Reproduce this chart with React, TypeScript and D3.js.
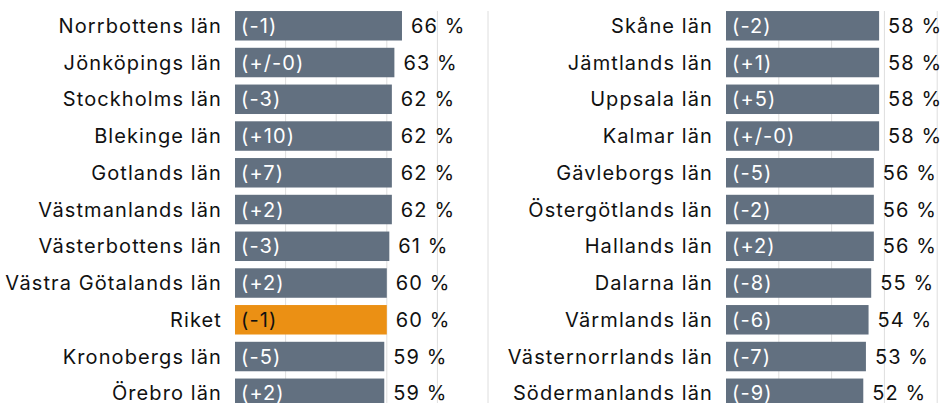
import * as d3 from "d3";
import { useEffect, useRef } from "react";

// left column
const leftNames = [
  "Norrbottens län", "Jönköpings län", "Stockholms län", "Blekinge län", "Gotlands län",
  "Västmanlands län", "Västerbottens län", "Västra Götalands län", "Riket", "Kronobergs län", "Örebro län",
];
const leftValues = [66, 63, 62, 62, 62, 62, 61, 60, 60, 59, 59];
const leftChange = ["(-1)", "(+/-0)", "(-3)", "(+10)", "(+7)", "(+2)", "(-3)", "(+2)", "(-1)", "(-5)", "(+2)"];

// right column
const rightNames = [
  "Skåne län", "Jämtlands län", "Uppsala län", "Kalmar län", "Gävleborgs län",
  "Östergötlands län", "Hallands län", "Dalarna län", "Värmlands län", "Västernorrlands län", "Södermanlands län",
];
const rightValues = [58, 58, 58, 58, 56, 56, 56, 55, 54, 53, 52];
const rightChange = ["(-2)", "(+1)", "(+5)", "(+/-0)", "(-5)", "(-2)", "(+2)", "(-8)", "(-6)", "(-7)", "(-9)"];

const gridTicks = [20, 40, 60, 80, 100];

const W = 942, H = 403;
const BAR = "#627080", HIGHLIGHT = "#eb9014";
const FONT = "Inter, 'Noto Sans', sans-serif";

const App = () => {
  const ref = useRef<SVGSVGElement>(null);

  useEffect(() => {
    const svg = d3.select(ref.current);
    svg.selectAll("*").remove();

    const panel = (names: string[], values: number[], change: string[], x0: number, x100: number) => {
      const x = d3.scaleLinear().domain([0, 100]).range([x0, x100]);
      const y = d3.scaleBand().domain(names).range([11 - 3.6, 11 - 3.6 + 36.75 * 11]).paddingInner(0.198).paddingOuter(0.099);
      const g = svg.append("g");

      // gridlines
      g.selectAll("line.grid")
        .data(gridTicks)
        .join("line")
        .attr("x1", (d) => x(d)).attr("x2", (d) => x(d))
        .attr("y1", 11).attr("y2", H)
        .attr("stroke", "#dedede").attr("stroke-width", 1);

      const rows = g.selectAll("g.row")
        .data(names.map((n, i) => ({ n, v: values[i], c: change[i] })))
        .join("g")
        .attr("transform", (d) => `translate(0,${y(d.n)})`);

      rows.append("rect")
        .attr("x", x(0))
        .attr("width", (d) => x(d.v) - x(0))
        .attr("height", y.bandwidth())
        .attr("fill", (d) => (d.n === "Riket" ? HIGHLIGHT : BAR));

      rows.append("text")
        .attr("x", x(0) - 13)
        .attr("y", y.bandwidth() / 2)
        .attr("dy", "0.35em")
        .attr("text-anchor", "end")
        .attr("fill", "#111")
        .text((d) => d.n);

      rows.append("text")
        .attr("x", x(0) + 6)
        .attr("y", y.bandwidth() / 2)
        .attr("dy", "0.35em")
        .attr("fill", (d) => (d.n === "Riket" ? "#111" : "#fff"))
        .text((d) => d.c);

      rows.append("text")
        .attr("x", (d) => x(d.v) + 9)
        .attr("y", y.bandwidth() / 2)
        .attr("dy", "0.35em")
        .attr("fill", "#111")
        .text((d) => `${d.v} %`);
    };

    svg.attr("font-family", FONT).attr("font-size", 20).attr("letter-spacing", 1.1);
    panel(leftNames, leftValues, leftChange, 235, 488);
    panel(rightNames, rightValues, rightChange, 726, 990);
  }, []);

  return (
    <svg
      ref={ref}
      width={W}
      height={H}
      style={{ position: "absolute", left: 0, top: 0, background: "#fff" }}
    />
  );
};

export default App;
